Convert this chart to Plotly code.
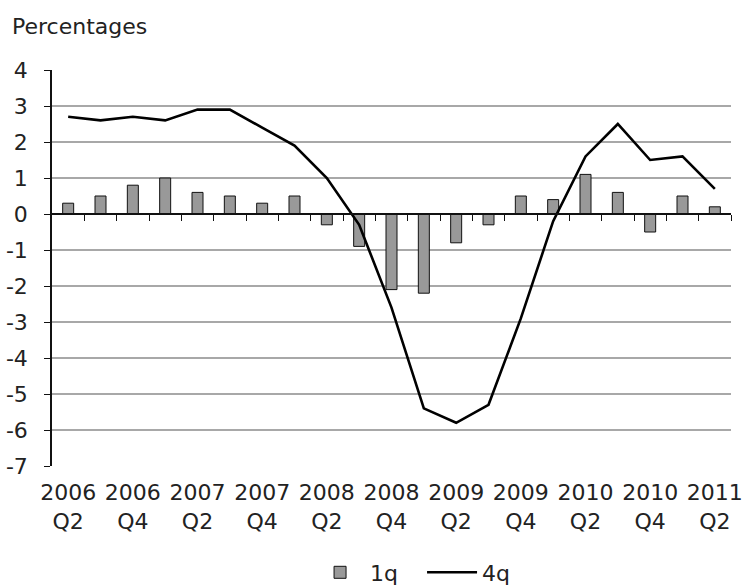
import plotly.graph_objects as go

quarters = ["2006 Q2", "2006 Q3", "2006 Q4", "2007 Q1", "2007 Q2", "2007 Q3", "2007 Q4",
            "2008 Q1", "2008 Q2", "2008 Q3", "2008 Q4", "2009 Q1", "2009 Q2", "2009 Q3",
            "2009 Q4", "2010 Q1", "2010 Q2", "2010 Q3", "2010 Q4", "2011 Q1", "2011 Q2"]
q1 = [0.3, 0.5, 0.8, 1.0, 0.6, 0.5, 0.3, 0.5, -0.3, -0.9, -2.1, -2.2, -0.8, -0.3,
      0.5, 0.4, 1.1, 0.6, -0.5, 0.5, 0.2]
q4 = [2.7, 2.6, 2.7, 2.6, 2.9, 2.9, 2.4, 1.9, 1.0, -0.3, -2.6, -5.4, -5.8, -5.3,
      -2.9, -0.2, 1.6, 2.5, 1.5, 1.6, 0.7]
y_ticks = [4, 3, 2, 1, 0, -1, -2, -3, -4, -5, -6, -7]
y_tick_text = [str(v) for v in y_ticks]
tick_quarters = quarters[::2]
tick_text = [q.replace(" ", "<br>") for q in tick_quarters]

n = len(quarters)
FONT = "DejaVu Sans"
TXT = "#222222"
FS = 22
FIG_W, FIG_H = 743, 630
PLOT_L, PLOT_R, PLOT_T, PLOT_B = 52, 731, 70, 466
PLOT_HT = PLOT_B - PLOT_T

fig = go.Figure()
fig.add_trace(go.Bar(
    x=quarters, y=q1, name="1q",
    marker=dict(color="#999999", line=dict(color="#111111", width=1)),
))
fig.add_trace(go.Scatter(
    x=quarters, y=q4, name="4q", mode="lines",
    line=dict(color="#000000", width=2.6),
))
# helper trace for the zero-line axis with boundary ticks
fig.add_trace(go.Scatter(
    x=[0], y=[0], xaxis="x2", mode="none", showlegend=False, hoverinfo="skip",
))

fig.update_layout(
    width=FIG_W, height=FIG_H,
    margin=dict(l=PLOT_L, r=FIG_W - PLOT_R, t=PLOT_T, b=FIG_H - PLOT_B),
    paper_bgcolor="white", plot_bgcolor="white",
    font=dict(family=FONT, size=FS, color=TXT),
    bargap=0.66,
    showlegend=True,
    legend=dict(orientation="h", x=0.545, xanchor="center",
                y=-85.5 / PLOT_HT, yanchor="top",
                font=dict(size=FS, color=TXT), itemwidth=50, entrywidth=47,
                traceorder="normal"),
    title=dict(text="Percentages", x=12 / FIG_W, xref="container", xanchor="left",
               y=1 - 19 / FIG_H, yref="container", yanchor="top",
               font=dict(family=FONT, size=FS, color=TXT)),
    xaxis=dict(
        type="category", range=[-0.5, n - 0.5], automargin=False,
        tickmode="array", tickvals=tick_quarters, ticktext=tick_text,
        showgrid=False, showline=False, ticks="", zeroline=False,
        ticklabelstandoff=11, tickfont=dict(size=FS, color=TXT),
    ),
    xaxis2=dict(
        overlaying="x", anchor="free", position=7 / 11, side="bottom",
        range=[-0.5, n - 0.5], automargin=False,
        tickmode="array", tickvals=[k + 0.5 for k in range(n)],
        showticklabels=False, ticks="outside", ticklen=6, tickwidth=1.3,
        tickcolor="#111111", showline=True, linecolor="#111111", linewidth=1.5,
        showgrid=False, zeroline=False,
    ),
    yaxis=dict(
        range=[-7, 4], tickmode="array", tickvals=y_ticks, ticktext=y_tick_text,
        automargin=False,
        showgrid=True, gridcolor="#a8a8a8", gridwidth=1.6,
        zeroline=False, showline=True, linecolor="#111111", linewidth=1.5,
        ticks="outside", ticklen=6, tickwidth=1.3, tickcolor="#111111",
        ticklabelstandoff=12, tickfont=dict(size=FS, color=TXT),
    ),
)

page_css = ("document.body.style.margin='0';"
            "document.body.style.overflow='hidden';"
            "document.documentElement.style.overflow='hidden';")
fig.write_html("out.html", post_script=page_css,
               config={"displayModeBar": False})
